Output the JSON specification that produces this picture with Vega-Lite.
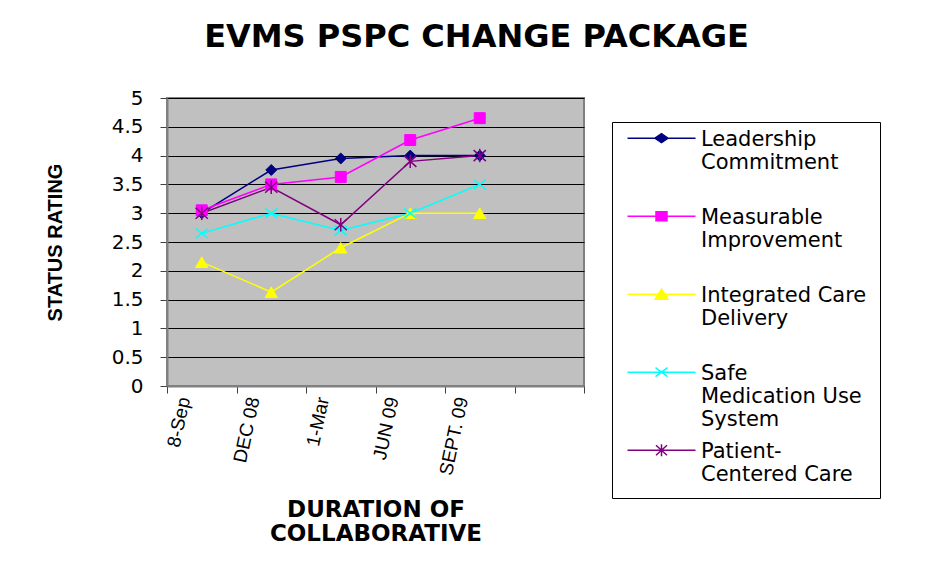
{
  "$schema": "https://vega.github.io/schema/vega-lite/v6.json",
  "width": 417,
  "height": 288,
  "autosize": {"type": "none"},
  "padding": {"left": 167, "top": 98, "right": 344, "bottom": 179},
  "background": "white",
  "config": {"view": {"fill": "#C0C0C0", "stroke": "#808080", "strokeWidth": 2}},
  "title": {
    "text": "EVMS PSPC CHANGE PACKAGE",
    "font": "DejaVu Sans", "fontWeight": "bold", "fontSize": 32, "color": "black",
    "anchor": "middle", "dx": 101, "offset": 9, "baseline": "alphabetic"
  },
  "data": {"values": [
    {"series": "Leadership Commitment", "month": "8-Sep", "value": 3.0},
    {"series": "Leadership Commitment", "month": "DEC 08", "value": 3.75},
    {"series": "Leadership Commitment", "month": "1-Mar", "value": 3.95},
    {"series": "Leadership Commitment", "month": "JUN 09", "value": 4.0},
    {"series": "Leadership Commitment", "month": "SEPT. 09", "value": 4.0},
    {"series": "Measurable Improvement", "month": "8-Sep", "value": 3.05},
    {"series": "Measurable Improvement", "month": "DEC 08", "value": 3.5},
    {"series": "Measurable Improvement", "month": "1-Mar", "value": 3.63},
    {"series": "Measurable Improvement", "month": "JUN 09", "value": 4.27},
    {"series": "Measurable Improvement", "month": "SEPT. 09", "value": 4.65},
    {"series": "Integrated Care Delivery", "month": "8-Sep", "value": 2.15},
    {"series": "Integrated Care Delivery", "month": "DEC 08", "value": 1.63},
    {"series": "Integrated Care Delivery", "month": "1-Mar", "value": 2.4},
    {"series": "Integrated Care Delivery", "month": "JUN 09", "value": 3.0},
    {"series": "Integrated Care Delivery", "month": "SEPT. 09", "value": 3.0},
    {"series": "Safe Medication Use System", "month": "8-Sep", "value": 2.65},
    {"series": "Safe Medication Use System", "month": "DEC 08", "value": 3.0},
    {"series": "Safe Medication Use System", "month": "1-Mar", "value": 2.7},
    {"series": "Safe Medication Use System", "month": "JUN 09", "value": 3.0},
    {"series": "Safe Medication Use System", "month": "SEPT. 09", "value": 3.5},
    {"series": "Patient-Centered Care", "month": "8-Sep", "value": 3.0},
    {"series": "Patient-Centered Care", "month": "DEC 08", "value": 3.45},
    {"series": "Patient-Centered Care", "month": "1-Mar", "value": 2.8},
    {"series": "Patient-Centered Care", "month": "JUN 09", "value": 3.9},
    {"series": "Patient-Centered Care", "month": "SEPT. 09", "value": 4.0}
  ]},
  "encoding": {
    "x": {
      "field": "month", "type": "nominal",
      "scale": {"domain": ["8-Sep", "DEC 08", "1-Mar", "JUN 09", "SEPT. 09", ""], "paddingInner": 0, "paddingOuter": 0},
      "axis": {
        "title": ["DURATION OF", "COLLABORATIVE"],
        "titleFont": "DejaVu Sans", "titleFontWeight": "bold", "titleFontSize": 23, "titleColor": "black",
        "titleLineHeight": 24, "titlePadding": 22,
        "labelAngle": -78, "labelFont": "Liberation Sans", "labelFontSize": 19, "labelColor": "black",
        "labelOffset": -18, "labelPadding": 4, "labelOverlap": false,
        "tickBand": "extent", "tickSize": 7, "tickColor": "#404040",
        "domainColor": "#808080", "domainWidth": 2, "grid": false
      }
    },
    "y": {
      "field": "value", "type": "quantitative",
      "scale": {"domain": [0, 5], "nice": false},
      "axis": {
        "title": "STATUS RATING",
        "titleFont": "Liberation Sans", "titleFontWeight": "bold", "titleFontSize": 20, "titleColor": "black",
        "titlePadding": 46,
        "values": [0, 0.5, 1, 1.5, 2, 2.5, 3, 3.5, 4, 4.5, 5], "format": "~g",
        "labelFont": "DejaVu Sans", "labelFontSize": 20, "labelColor": "black", "labelPadding": 17,
        "tickSize": 7, "tickColor": "#404040",
        "domainColor": "#808080", "domainWidth": 2,
        "grid": true, "gridColor": "black", "gridWidth": 1, "gridOpacity": 1
      }
    },
    "color": {
      "field": "series", "type": "nominal",
      "scale": {
        "domain": ["Leadership Commitment", "Measurable Improvement", "Integrated Care Delivery", "Safe Medication Use System", "Patient-Centered Care"],
        "range": ["#000080", "#FF00FF", "#FFFF00", "#00FFFF", "#800080"]
      },
      "legend": {
        "title": null, "orient": "none", "legendX": 445, "legendY": 24, "direction": "vertical",
        "strokeColor": "black", "fillColor": "white", "padding": 13,
        "labelFont": "DejaVu Sans", "labelFontSize": 21, "labelColor": "black", "labelLimit": 400,
        "labelBaseline": "alphabetic", "labelOffset": 55,
        "symbolSize": 100, "rowPadding": 10, "gridAlign": "all",
        "labelExpr": "datum.label == 'Leadership Commitment' ? ['Leadership','Commitment'] : datum.label == 'Measurable Improvement' ? ['Measurable','Improvement'] : datum.label == 'Integrated Care Delivery' ? ['Integrated Care','Delivery'] : datum.label == 'Safe Medication Use System' ? ['Safe','Medication Use','System'] : ['Patient-','Centered Care']",
        "encode": {
          "labels": {"update": {"lineHeight": {"value": 23}}},
          "symbols": {"update": {
            "shape": {"signal": "datum.value == 'Leadership Commitment' ? 'M-1.6,-1.46L12,-1.46M3.9,-1.46L5.2,-2.36L6.5,-1.46L5.2,-0.56Z' : datum.value == 'Measurable Improvement' ? 'M-1.6,-1.46L12,-1.46M4.1,-2.36L6.3,-2.36L6.3,-0.56L4.1,-0.56Z' : datum.value == 'Integrated Care Delivery' ? 'M-1.6,-1.46L12,-1.46M3.9,-0.46L5.2,-2.46L6.5,-0.46Z' : datum.value == 'Safe Medication Use System' ? 'M-1.6,-1.46L12,-1.46M4,-2.36L6.4,-0.56M4,-0.56L6.4,-2.36' : 'M-1.6,-1.46L12,-1.46M4.1,-2.46L6.3,-0.46M4.1,-0.46L6.3,-2.46M5.2,-2.66L5.2,-0.26'"},
            "fill": {"signal": "scale('color', datum.value)"},
            "stroke": {"signal": "scale('color', datum.value)"},
            "strokeWidth": {"value": 1.5},
            "opacity": {"value": 1}
          }}
        }
      }
    }
  },
  "layer": [
    {"mark": {"type": "line", "strokeWidth": 1.5}},
    {
      "transform": [{"filter": "datum.series == 'Leadership Commitment'"}],
      "mark": {"type": "point", "shape": "diamond", "filled": true, "opacity": 1, "size": 120, "fill": "#000080", "stroke": "#000080", "strokeWidth": 1}
    },
    {
      "transform": [{"filter": "datum.series == 'Measurable Improvement'"}],
      "mark": {"type": "point", "shape": "square", "filled": true, "opacity": 1, "size": 120, "fill": "#FF00FF", "stroke": "#FF00FF", "strokeWidth": 1}
    },
    {
      "transform": [{"filter": "datum.series == 'Integrated Care Delivery'"}],
      "mark": {"type": "point", "shape": "triangle-up", "filled": true, "opacity": 1, "size": 150, "fill": "#FFFF00", "stroke": "#FFFF00", "strokeWidth": 1}
    },
    {
      "transform": [{"filter": "datum.series == 'Safe Medication Use System'"}],
      "mark": {"type": "point", "shape": "M-1,-0.8L1,0.8M-1,0.8L1,-0.8", "filled": false, "opacity": 1, "size": 150, "stroke": "#00FFFF", "strokeWidth": 1.5}
    },
    {
      "transform": [{"filter": "datum.series == 'Patient-Centered Care'"}],
      "mark": {"type": "point", "shape": "M-1,-0.9L1,0.9M-1,0.9L1,-0.9M0,-1.1L0,1.1", "filled": false, "opacity": 1, "size": 150, "stroke": "#800080", "strokeWidth": 1.5}
    }
  ]
}
